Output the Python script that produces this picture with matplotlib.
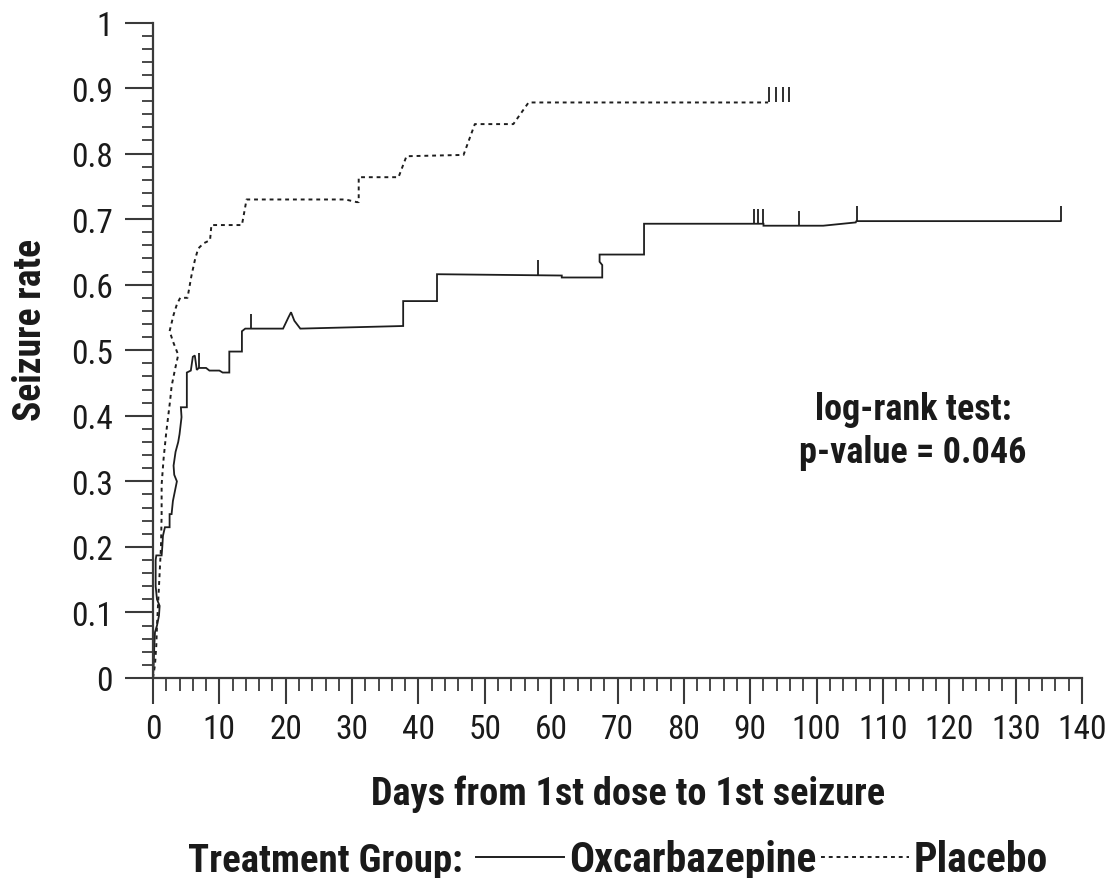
import matplotlib
matplotlib.use("Agg")
import matplotlib.pyplot as plt
from matplotlib.lines import Line2D
from matplotlib.ticker import MultipleLocator

plt.rcParams['font.family'] = ['Roboto Condensed', 'Archivo Narrow', 'PT Sans Narrow',
                               'Liberation Sans', 'DejaVu Sans']

# Oxcarbazepine (solid) path
oxc_days = [0, 0.1, 0.2, 0.3, 0.6, 0.9, 1.0, 0.6, 0.4, 0.4, 0.5, 1.3, 1.4, 1.5, 1.8, 2.5,
            2.5, 2.8, 3.0, 3.4, 3.6, 3.2, 3.1, 3.4, 3.8, 4.0, 4.3, 4.2, 5.1, 5.1, 5.7,
            6.0, 6.3, 6.6, 6.9, 8.0, 8.5, 10.0, 10.5, 11.5, 11.5, 13.4, 13.4, 13.9,
            19.6, 20.4, 20.8, 21.3, 22.2, 37.7, 37.7, 42.8, 42.8, 61.6, 61.6, 67.7,
            67.7, 67.3, 67.3, 74.0, 74.0, 92.0, 92.0, 101.0, 105.9, 106.0, 136.8]
oxc_rate = [0, 0.02, 0.05, 0.07, 0.08, 0.095, 0.11, 0.12, 0.14, 0.18, 0.187, 0.187, 0.20,
            0.217, 0.23, 0.23, 0.25, 0.25, 0.27, 0.29, 0.30, 0.31, 0.324, 0.345, 0.36,
            0.372, 0.398, 0.413, 0.413, 0.466, 0.469, 0.49, 0.492, 0.47, 0.473, 0.473,
            0.469, 0.469, 0.466, 0.466, 0.498, 0.498, 0.529, 0.533, 0.533, 0.55, 0.558,
            0.545, 0.533, 0.537, 0.575, 0.575, 0.616, 0.614, 0.611, 0.611, 0.63, 0.635,
            0.646, 0.646, 0.693, 0.693, 0.690, 0.690, 0.695, 0.697, 0.697]
oxc_cens = [7.0, 14.8, 58.0, 90.5, 91.2, 91.9, 97.3, 106.1, 136.8]
oxc_cens_rate = [0.473, 0.533, 0.615, 0.693, 0.693, 0.692, 0.690, 0.697, 0.697]

# Placebo (dotted) path
pla_days = [0, 0.3, 0.5, 0.6, 0.8, 1.0, 1.2, 1.3, 1.3, 1.6, 2.0, 2.3, 2.6, 2.8, 3.3, 3.8,
            3.1, 2.5, 3.1, 3.6, 4.1, 5.2, 5.8, 6.3, 6.8, 7.6, 8.6, 8.8, 13.4, 14.1, 29.0,
            30.7, 31.0, 31.0, 37.0, 38.2, 46.8, 48.5, 54.3, 56.6, 92.7]
pla_rate = [0, 0.02, 0.05, 0.08, 0.12, 0.16, 0.2, 0.25, 0.295, 0.335, 0.375, 0.40, 0.425,
            0.445, 0.47, 0.493, 0.511, 0.529, 0.554, 0.57, 0.58, 0.58, 0.614, 0.637, 0.655,
            0.663, 0.668, 0.691, 0.691, 0.73, 0.73, 0.726, 0.726, 0.764, 0.764, 0.796,
            0.798, 0.845, 0.845, 0.878, 0.878]
pla_cens = [92.8, 93.9, 94.9, 95.8]
pla_cens_rate = [0.878, 0.878, 0.878, 0.878]

group_title = 'Treatment Group:'
group_names = ['Oxcarbazepine', 'Placebo']

cens_h = 0.023
ink = '#1e1e1e'
axis_col = '#3a3a3a'
txt = '#1a1a1a'
dotted = (0, (2.0, 2.0))

W, H = 1114, 879
fig = plt.figure(figsize=(W / 100, H / 100), dpi=100)
ax = fig.add_axes([153 / W, 1 - 679 / H, 929 / W, 655.5 / H])

ax.plot(oxc_days, oxc_rate, color=ink, lw=1.3, solid_joinstyle='miter')
ax.vlines(oxc_cens, oxc_cens_rate, [r + cens_h for r in oxc_cens_rate], color=ink, lw=1.3)
ax.plot(pla_days, pla_rate, color=ink, lw=1.4, linestyle=dotted)
ax.vlines(pla_cens, pla_cens_rate, [r + cens_h for r in pla_cens_rate], color=ink, lw=1.3)

ax.set_xlim(0, 140)
ax.set_ylim(0, 1)
ax.xaxis.set_major_locator(MultipleLocator(10))
ax.xaxis.set_minor_locator(MultipleLocator(2))
ax.yaxis.set_major_locator(MultipleLocator(0.1))
ax.yaxis.set_minor_locator(MultipleLocator(0.02))
ax.yaxis.set_major_formatter(plt.FuncFormatter(
    lambda v, p: '0' if v == 0 else ('1' if abs(v - 1) < 1e-9 else f'{v:.1f}')))

for s in ['top', 'right']:
    ax.spines[s].set_visible(False)
for s in ['left', 'bottom']:
    ax.spines[s].set_color(axis_col)
    ax.spines[s].set_linewidth(1.6)

ax.tick_params(axis='x', which='major', length=19, width=1.5, color=axis_col,
               labelsize=24, pad=6, labelcolor=txt)
ax.tick_params(axis='x', which='minor', length=9, width=1.3, color=axis_col)
ax.tick_params(axis='y', which='major', length=20, width=1.5, color=axis_col,
               labelsize=24, pad=9, labelcolor=txt)
ax.tick_params(axis='y', which='minor', length=8, width=1.3, color=axis_col)

ax.set_xlabel('Days from 1st dose to 1st seizure', fontsize=27.5, fontweight='bold',
              color=txt)
ax.xaxis.set_label_coords((628 - 153) / 929, -0.148)
ax.set_ylabel('Seizure rate', fontsize=27, fontweight='bold', color=txt)
ax.yaxis.set_label_coords(-0.112, 0.532)

ax.text(0.818, 0.395, 'log-rank test:', transform=ax.transAxes, fontsize=26,
        fontweight='bold', ha='center', va='baseline', color=txt)
ax.text(0.818, 0.329, 'p-value = 0.046', transform=ax.transAxes, fontsize=26,
        fontweight='bold', ha='center', va='baseline', color=txt)

# legend row along the bottom, pieces laid out one after another
r = fig.canvas.get_renderer()
base_y = 1 - 872 / H
x = 188
t = fig.text(x / W, base_y, group_title, fontsize=28, fontweight='bold',
             ha='left', va='baseline', color=txt)
x = t.get_window_extent(r).x1 + 13
mid_y = 1 - 858 / H
for name, ls in zip(group_names, ['-', dotted]):
    fig.add_artist(Line2D([x / W, (x + 88) / W], [mid_y, mid_y], color=ink, lw=1.4,
                          linestyle=ls))
    x += 93
    t = fig.text(x / W, base_y, name, fontsize=30, fontweight='bold',
                 ha='left', va='baseline', color=txt)
    x = t.get_window_extent(r).x1 + 5

fig.savefig('out.png', dpi=100)
